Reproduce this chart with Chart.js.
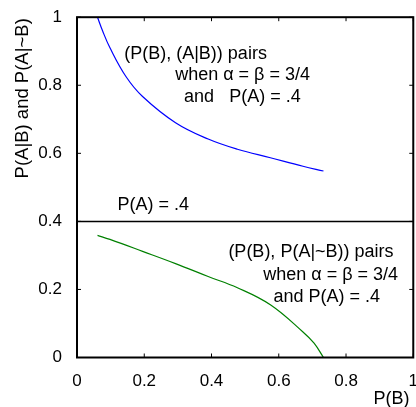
<!DOCTYPE html>
<html>
<head>
    <title>P(A|B) and P(A|~B)</title>
    <script src="https://cdn.jsdelivr.net/npm/chart.js"></script>
    <style>
        html, body { margin: 0; padding: 0; overflow: hidden; background: #fff; }
        #wrap { width: 424px; height: 407px; }
    </style>
</head>
<body>
    <div id="wrap"><canvas id="grafico"></canvas></div>

    <script>
        // values
        const pbUpper = [0.061, 0.076, 0.098, 0.146, 0.195, 0.293, 0.39, 0.477, 0.575, 0.672, 0.733];
        const pAgivenB = [1.0, 0.96, 0.91, 0.825, 0.767, 0.69, 0.642, 0.612, 0.587, 0.562, 0.548];
        const pbLower = [0.061, 0.098, 0.195, 0.293, 0.39, 0.477, 0.575, 0.672, 0.705, 0.733];
        const pAgivenNotB = [0.359, 0.347, 0.312, 0.276, 0.238, 0.205, 0.155, 0.075, 0.042, 0.0];
        const pA = 0.4;
        const tickValues = [0, 0.2, 0.4, 0.6, 0.8, 1];

        // text inside the axes, anchored in data units (centre of each line)
        const notes = [
            { text: '(P(B), (A|B)) pairs', x: 0.3525, y: 0.892 },
            { text: 'when \u03b1 = \u03b2 = 3/4', x: 0.4924, y: 0.830 },
            { text: 'and   P(A) = .4', x: 0.4918, y: 0.766 },
            { text: 'P(A) = .4', x: 0.2269, y: 0.4466 },
            { text: '(P(B), P(A|~B)) pairs', x: 0.6958, y: 0.309 },
            { text: 'when \u03b1 = \u03b2 = 3/4', x: 0.7544, y: 0.2425 },
            { text: 'and P(A) = .4', x: 0.7426, y: 0.178 }
        ];

        const FONT = '"Liberation Sans", Arial, Helvetica, sans-serif';
        Chart.defaults.font.family = FONT;
        Chart.defaults.color = '#000';

        const toPoints = (xs, ys) => xs.map((v, i) => ({ x: v, y: ys[i] }));
        const fmt = v => String(Math.round(v * 10) / 10);

        // box with inward ticks on all four sides
        const frame = {
            id: 'frame',
            afterDraw(chart) {
                const { ctx, chartArea: a, scales: { x, y } } = chart;
                ctx.save();
                ctx.strokeStyle = '#000';
                ctx.lineWidth = 1;
                ctx.beginPath();
                tickValues.forEach(v => {
                    const px = x.getPixelForValue(v);
                    const py = y.getPixelForValue(v);
                    ctx.moveTo(px, a.bottom); ctx.lineTo(px, a.bottom - 4);
                    ctx.moveTo(px, a.top); ctx.lineTo(px, a.top + 4);
                    ctx.moveTo(a.left, py); ctx.lineTo(a.left + 4, py);
                    ctx.moveTo(a.right, py); ctx.lineTo(a.right - 4, py);
                });
                ctx.stroke();
                ctx.lineWidth = 2;
                ctx.strokeRect(a.left, a.top, a.right - a.left, a.bottom - a.top);

                // axis titles
                ctx.fillStyle = '#000';
                ctx.font = '18px ' + FONT;
                ctx.textAlign = 'center';
                ctx.textBaseline = 'middle';
                ctx.fillText('P(B)', 391.5, 399);

                ctx.translate(22.5, a.top + 1);
                ctx.rotate(-Math.PI / 2);
                ctx.textAlign = 'right';
                ctx.font = '18.5px ' + FONT;
                ctx.fillText('P(A|B) and P(A|~B)', 0, 0);
                ctx.restore();
            },
            afterDatasetsDraw(chart) {
                const { ctx, scales: { x, y } } = chart;
                ctx.save();
                ctx.fillStyle = '#000';
                ctx.font = '18px ' + FONT;
                ctx.textAlign = 'center';
                ctx.textBaseline = 'middle';
                notes.forEach(n => ctx.fillText(n.text, x.getPixelForValue(n.x), y.getPixelForValue(n.y)));
                ctx.restore();
            }
        };

        const ctx = document.getElementById('grafico').getContext('2d');
        new Chart(ctx, {
            type: 'line',
            data: {
                datasets: [
                    {
                        data: toPoints(pbUpper, pAgivenB),
                        borderColor: '#0000ff',
                        borderWidth: 1.2,
                        pointRadius: 0,
                        tension: 0.4
                    },
                    {
                        data: toPoints(pbLower, pAgivenNotB),
                        borderColor: '#008000',
                        borderWidth: 1.2,
                        pointRadius: 0,
                        tension: 0.4
                    },
                    {
                        data: toPoints([0, 1], [pA, pA]),
                        borderColor: '#000',
                        borderWidth: 1.5,
                        pointRadius: 0
                    }
                ]
            },
            options: {
                responsive: true,
                maintainAspectRatio: false,
                animation: false,
                layout: { padding: { left: 0, top: 16, right: 6, bottom: 0 } },
                plugins: {
                    legend: { display: false },
                    tooltip: { enabled: false }
                },
                scales: {
                    x: {
                        type: 'linear',
                        min: 0,
                        max: 1,
                        grid: { display: false },
                        border: { display: false },
                        ticks: { stepSize: 0.2, font: { size: 17 }, color: '#000', padding: 6, maxRotation: 0, callback: fmt },
                        afterFit: s => { s.height = 49.5; }
                    },
                    y: {
                        min: 0,
                        max: 1,
                        grid: { display: false },
                        border: { display: false },
                        ticks: { stepSize: 0.2, font: { size: 17 }, color: '#000', padding: 7, callback: fmt },
                        afterFit: s => { s.width = 77; }
                    }
                }
            },
            plugins: [frame]
        });
    </script>
</body>
</html>
